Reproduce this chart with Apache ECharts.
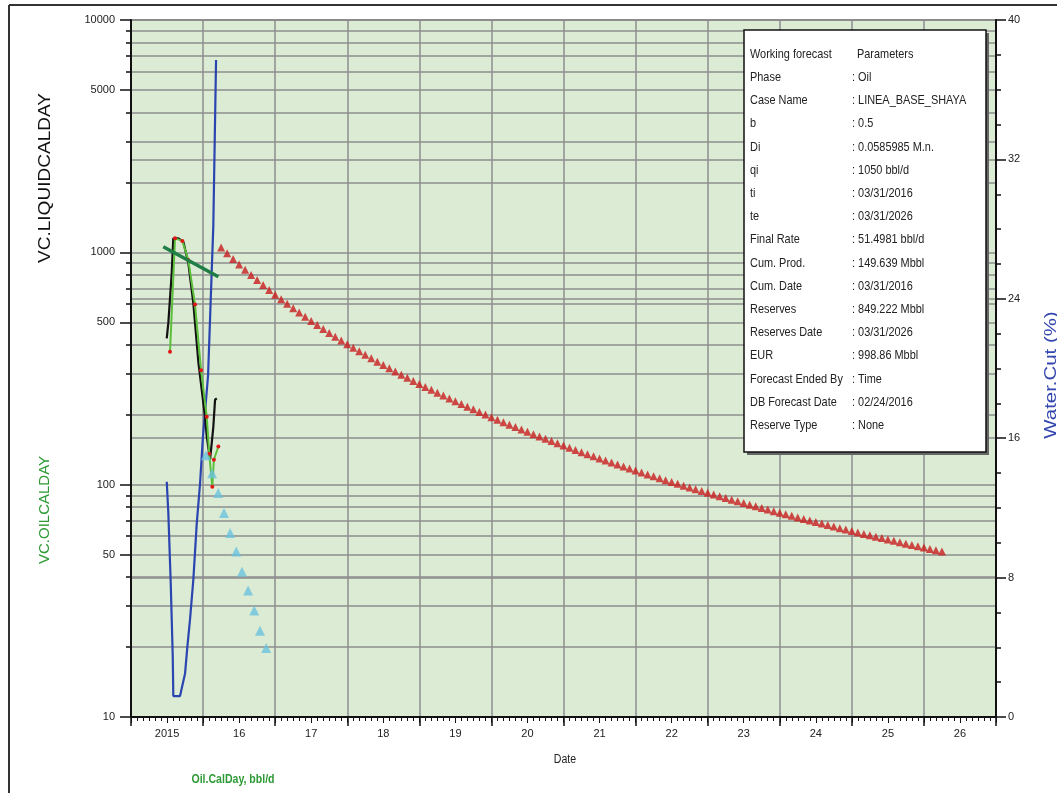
<!DOCTYPE html>
<html><head><meta charset="utf-8">
<script src="https://cdn.jsdelivr.net/npm/echarts@6/dist/echarts.min.js"></script>
<style>html,body{margin:0;padding:0;background:#fff}#c{width:1057px;height:793px}</style>
</head><body><div id="c"></div><script>
const FONT = '"Liberation Sans",Arial,sans-serif';

// ---- tick labels ----
const yearLabels = ['2015','16','17','18','19','20','21','22','23','24','25','26'];
const leftLabelValues = [10, 50, 100, 500, 1000, 5000, 10000];
const leftGridValues = [10,20,30,40,50,60,70,80,90,100,200,300,400,500,600,700,800,900,1000,2000,3000,4000,5000,6000,7000,8000,9000,10000];

// ---- water cut (%) , right axis ----
const wcYears = [2015.496,2015.518,2015.551,2015.565,2015.579,2015.587,2015.680,2015.750,2015.781,2015.819,2015.865,2015.912,2015.958,2015.995,2016.069,2016.142,2016.180];
const wcValues = [13.5,11.7,7.7,5.6,3.5,1.2,1.2,2.5,4.0,5.6,7.9,11.1,13.4,15.9,19.6,28.2,37.7];

// ---- liquid rate (black) ----
const liqYears = [2015.496,2015.518,2015.565,2015.587,2015.657,2015.726,2015.795,2015.865,2015.934,2016.027,2016.051,2016.097,2016.142,2016.166,2016.190];
const liqValues = [426,497,815,1149,1149,1111,900,605,338,196,161,128,177,232,235];

// ---- oil rate (green with red points) ----
const oilYears = [2015.541,2015.611,2015.712,2015.795,2015.888,2015.972,2016.051,2016.085,2016.128,2016.150,2016.212];
const oilValues = [373,1149,1120,927,596,311,196,136,98,128,146];

// ---- trend line (dark green) ----
const trendYears = [2015.448, 2016.212];
const trendValues = [1057, 785];

// ---- light blue triangles ----
const cyanYears = [2016.04,2016.125,2016.21,2016.29,2016.375,2016.46,2016.54,2016.625,2016.71,2016.79,2016.875];
const cyanValues = [134,112,92,75.5,62,51.5,42.2,35,28.7,23.5,19.8];

// ---- forecast (red triangles), monthly from 03/31/2016 ----
const forecastStartYear = 2016.25;
const forecastValues = [1050,991.1,937.0,887.2,841.3,798.8,759.5,723.0,689.1,657.5,
628.1,600.5,574.8,550.7,528.0,506.7,486.7,467.9,450.1,433.3,
417.4,402.4,388.2,374.8,362.0,349.8,338.3,327.3,316.9,306.9,
297.4,288.3,279.7,271.4,263.5,255.9,248.7,241.8,235.1,228.7,
222.6,216.7,211.0,205.6,200.4,195.3,190.5,185.8,181.3,177.0,
172.8,168.8,164.9,161.1,157.5,154.0,150.6,147.3,144.1,141.0,
138.0,135.2,132.4,129.6,127.0,124.5,122.0,119.6,117.3,115.0,
112.8,110.7,108.6,106.6,104.6,102.7,100.8,99.0,97.3,95.6,
93.9,92.3,90.7,89.2,87.7,86.2,84.8,83.4,82.0,80.7,
79.4,78.1,76.9,75.7,74.5,73.4,72.2,71.1,70.1,69.0,
68.0,67.0,66.0,65.0,64.1,63.2,62.3,61.4,60.5,59.7,
58.9,58.1,57.3,56.5,55.7,55.0,54.3,53.6,52.8,52.2,51.5];

// ---- parameter box ----
const paramLabels = ['Working forecast','Phase','Case Name','b','Di','qi','ti','te','Final Rate','Cum. Prod.','Cum. Date','Reserves','Reserves Date','EUR','Forecast Ended By','DB Forecast Date','Reserve Type'];
const paramValues = ['Parameters','Oil','LINEA_BASE_SHAYA','0.5','0.0585985 M.n.','1050 bbl/d','03/31/2016','03/31/2026','51.4981 bbl/d','149.639 Mbbl','03/31/2016','849.222 Mbbl','03/31/2026','998.86 Mbbl','Time','02/24/2016','None'];

const pairs = (xs, ys) => xs.map((x, i) => [x, ys[i]]);
const forecastData = forecastValues.map((v, i) => [forecastStartYear + i / 12, v]);

const chart = echarts.init(document.getElementById('c'), null, {renderer: 'canvas'});
const gridColor = '#8e8e8e';
const txt = '#222';

const graphics = [
  {type:'line', shape:{x1:9,y1:5,x2:1057,y2:5}, style:{stroke:'#333',lineWidth:2}},
  {type:'line', shape:{x1:9,y1:5,x2:9,y2:793}, style:{stroke:'#333',lineWidth:2}},
  {type:'text', x:45, y:178, rotation:Math.PI/2, scaleX:1.12, style:{text:'VC.LIQUIDCALDAY', fill:'#111', font:'17px '+FONT, align:'center', verticalAlign:'middle'}},
  {type:'text', x:45, y:510, rotation:Math.PI/2, style:{text:'VC.OILCALDAY', fill:'#2e9a36', font:'15px '+FONT, align:'center', verticalAlign:'middle'}},
  {type:'text', x:1051, y:375, rotation:Math.PI/2, scaleX:1.2, style:{text:'Water.Cut (%)', fill:'#3346b0', font:'17px '+FONT, align:'center', verticalAlign:'middle'}},
  {type:'text', x:565, y:760, scaleX:0.88, style:{text:'Date', fill:txt, font:'12px '+FONT, align:'center', verticalAlign:'middle'}},
  {type:'text', x:233, y:780, scaleX:0.88, style:{text:'Oil.CalDay, bbl/d', fill:'#2e9a36', font:'bold 12px '+FONT, align:'center', verticalAlign:'middle'}},
  {type:'rect', z:10, shape:{x:747,y:33,width:242,height:422}, style:{fill:'#666'}},
  {type:'rect', z:11, shape:{x:744,y:30,width:242,height:422}, style:{fill:'#fff', stroke:'#111', lineWidth:1.5}}
];
paramLabels.forEach((t, i) => {
  const y = 54.3 + 23.2 * i;
  graphics.push({type:'text', z:12, x:750, y:y, scaleX:0.84, style:{text:t, fill:txt, font:'13px '+FONT, verticalAlign:'middle'}});
  graphics.push({type:'text', z:12, x: i === 0 ? 857 : 852, y:y, scaleX:0.84, style:{text: i === 0 ? paramValues[i] : ': ' + paramValues[i], fill:txt, font:'13px '+FONT, verticalAlign:'middle'}});
});

const option = {
  animation: false,
  backgroundColor: '#fff',
  grid: {left:131, right:61, top:20, bottom:76, show:true, backgroundColor:'#dcebd4', borderColor:'#444', borderWidth:1.5},
  xAxis: [
    {type:'value', min:2015, max:2027, interval:1, position:'bottom',
     axisLine:{show:true, onZero:false, lineStyle:{color:'#111', width:2}},
     axisTick:{show:true, length:9, lineStyle:{color:'#111', width:1.5}},
     minorTick:{show:true, splitNumber:12, length:4, lineStyle:{color:'#111', width:1}},
     axisLabel:{show:false},
     splitLine:{show:true, lineStyle:{color:gridColor, width:1.5}}},
    {type:'value', min:2015, max:2027, interval:0.5, position:'bottom',
     axisLine:{show:false, onZero:false},
     axisTick:{show:true, length:6, lineStyle:{color:'#111', width:1}},
     splitLine:{show:false},
     axisLabel:{show:true, margin:11, color:txt, fontFamily:FONT, fontSize:11,
       formatter: v => (Math.abs(v - Math.floor(v) - 0.5) < 1e-6) ? (yearLabels[Math.floor(v) - 2015] || '') : ''}}
  ],
  yAxis: [
    {type:'log', logBase:10, min:10, max:10000, position:'left',
     axisLine:{show:true, onZero:false, lineStyle:{color:'#111', width:2}},
     axisTick:{show:true, length:5, customValues:leftGridValues, lineStyle:{color:'#111', width:1.5}},
     axisLabel:{show:false},
     splitLine:{show:true, lineStyle:{color:gridColor, width:1.5}}},
    {type:'log', logBase:10, min:10, max:10000, position:'left',
     axisLine:{show:false, onZero:false},
     axisTick:{show:true, length:11, customValues:leftLabelValues, lineStyle:{color:'#111', width:1.5}},
     axisLabel:{show:true, customValues:leftLabelValues, margin:16, color:txt, fontFamily:FONT, fontSize:11,
       formatter: v => String(Math.round(v))},
     splitLine:{show:false}},
    {type:'value', min:0, max:40, interval:8, position:'right',
     axisLine:{show:true, onZero:false, lineStyle:{color:'#111', width:2}},
     axisTick:{show:true, length:10, lineStyle:{color:'#111', width:1.5}},
     minorTick:{show:true, splitNumber:4, length:5, lineStyle:{color:'#111', width:1.5}},
     axisLabel:{show:true, margin:12, color:txt, fontFamily:FONT, fontSize:11},
     splitLine:{show:true, lineStyle:{color:gridColor, width:1.5}}}
  ],
  series: [
    {type:'line', name:'Water cut', xAxisIndex:0, yAxisIndex:2, data:pairs(wcYears, wcValues), symbol:'none', z:3,
     lineStyle:{color:'#2b45b0', width:2.2}},
    {type:'line', name:'Liquid', xAxisIndex:0, yAxisIndex:0, data:pairs(liqYears, liqValues), symbol:'none', z:4,
     lineStyle:{color:'#111', width:2.2}},
    {type:'line', name:'Oil', xAxisIndex:0, yAxisIndex:0, data:pairs(oilYears, oilValues), symbol:'circle', symbolSize:4, z:5,
     lineStyle:{color:'#5cbf3c', width:2}, itemStyle:{color:'#e01818', borderWidth:0}},
    {type:'line', name:'Trend', xAxisIndex:0, yAxisIndex:0, data:pairs(trendYears, trendValues), symbol:'none', z:6,
     lineStyle:{color:'#1f7d45', width:3.5}},
    {type:'scatter', name:'Cyan', xAxisIndex:0, yAxisIndex:0, data:pairs(cyanYears, cyanValues), symbol:'triangle', symbolSize:10, z:7,
     itemStyle:{color:'#6cc3de'}},
    {type:'scatter', name:'Forecast', xAxisIndex:0, yAxisIndex:0, data:forecastData, symbol:'triangle', symbolSize:8, z:8,
     itemStyle:{color:'#c81e1e'}}
  ],
  graphic: graphics
};
chart.setOption(option);
</script></body></html>
